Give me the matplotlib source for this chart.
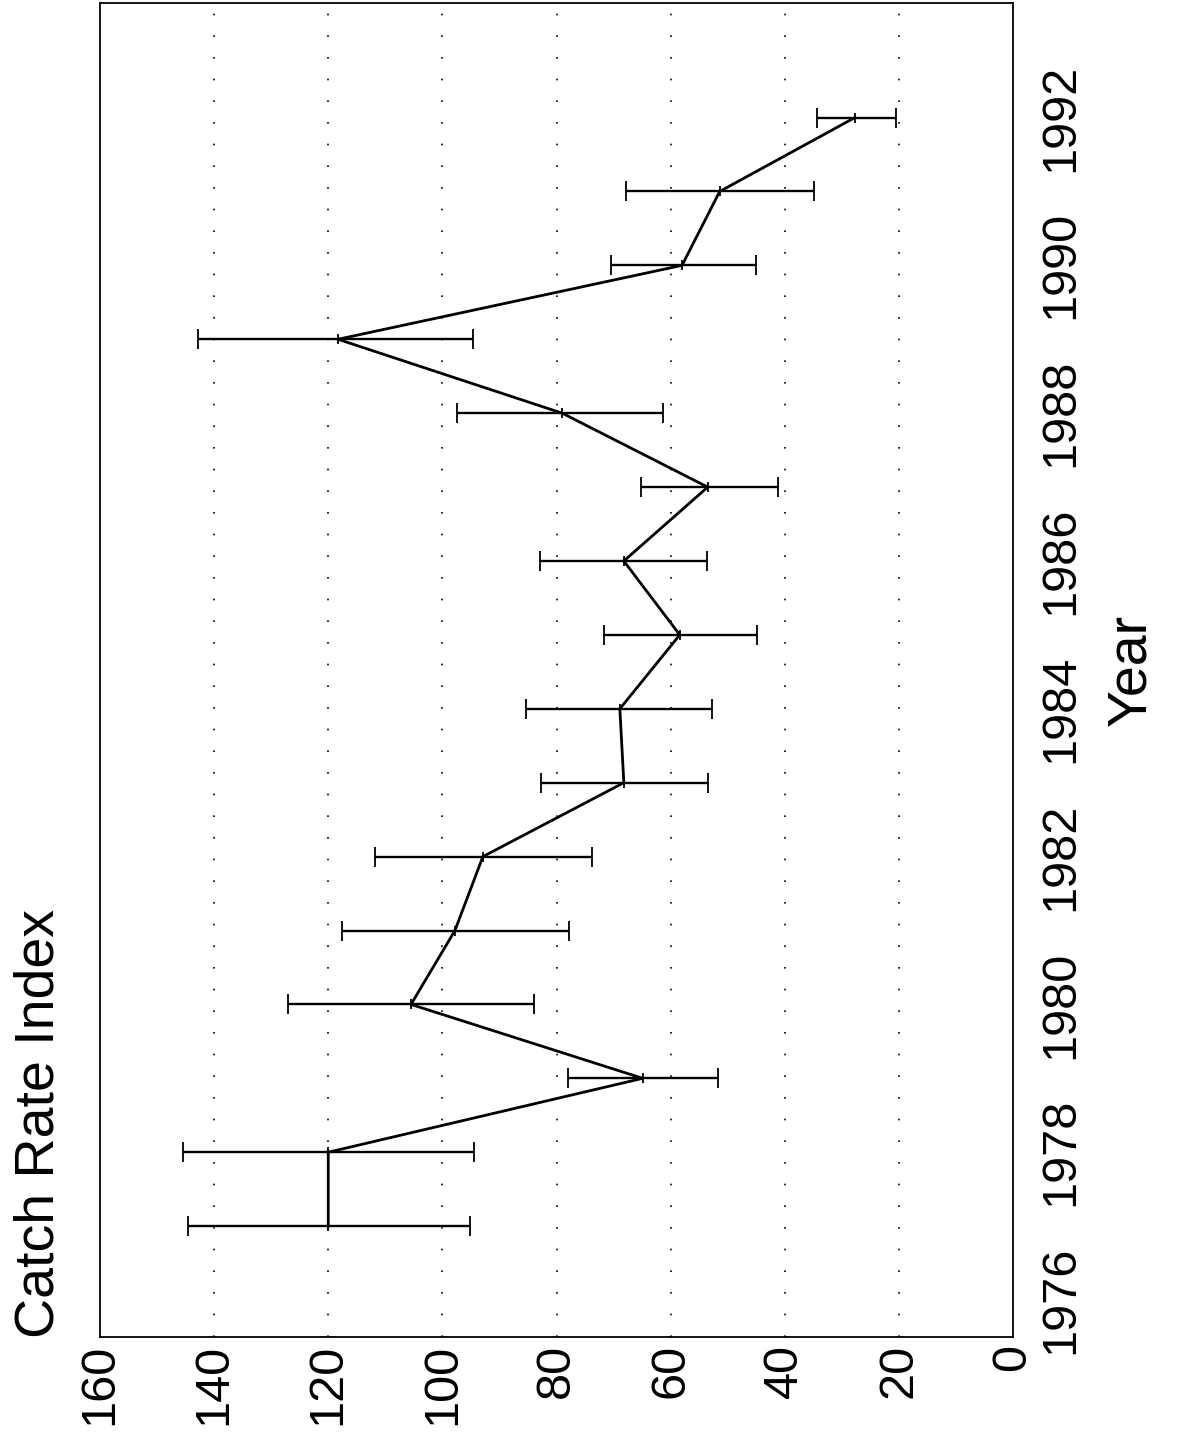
import matplotlib
matplotlib.use("Agg")
import matplotlib.pyplot as plt

# catch rate index by year, with lower / upper bounds of the error bars
years = [1977, 1978, 1979, 1980, 1981, 1982, 1983, 1984,
         1985, 1986, 1987, 1988, 1989, 1990, 1991, 1992]
index = [120, 120, 64.9, 105.5, 97.8, 92.9, 68.2, 68.9,
         58.4, 68.2, 53.5, 79, 118.3, 58, 51.4, 27.7]
lower = [95.2, 94.5, 51.7, 84, 77.8, 73.8, 53.5, 52.8,
         44.9, 53.6, 41.2, 61.3, 94.7, 45, 34.9, 20.5]
upper = [144.6, 145.5, 78, 127, 117.6, 111.8, 82.7, 85.4,
         71.7, 82.9, 65.2, 97.5, 142.9, 70.5, 67.8, 34.4]

value_ticks = [0, 20, 40, 60, 80, 100, 120, 140, 160]
year_ticks = [1976, 1978, 1980, 1982, 1984, 1986, 1988, 1990, 1992]

plt.rcParams['font.family'] = ['Liberation Sans', 'DejaVu Sans']

fig = plt.figure(figsize=(11.77, 14.37), dpi=100)
ax = fig.add_axes([100/1177, 1 - 1337/1437, 913/1177, 1334/1437])

# the page is printed sideways: values run along x (reversed), years along y
xerr = [[i - lo for i, lo in zip(index, lower)],
        [hi - i for i, hi in zip(index, upper)]]
ax.errorbar(index, years, xerr=xerr, color='black', lw=2.0,
            elinewidth=1.7, capsize=7, capthick=1.7,
            marker='|', markersize=7, mew=1.3)

for v in value_ticks[1:-1]:
    ax.axvline(v, color='black', lw=1.2, ls=(0, (1, 12)), zorder=0)

ax.set_xlim(160, 0)
ax.set_ylim(1975.5, 1993.55)

ax.set_xticks(value_ticks)
ax.set_xticklabels([str(v) for v in value_ticks], rotation=90, fontsize=35)
ax.set_yticks(year_ticks)
ax.set_yticklabels([str(y) for y in year_ticks], rotation=90, fontsize=35,
                   va='center')
ax.yaxis.tick_right()
ax.tick_params(axis='x', length=0, pad=5)
ax.tick_params(axis='y', length=0, pad=18)

ax.yaxis.set_label_position('right')
ax.set_ylabel('Year', fontsize=40, rotation=90, labelpad=16)

for s in ax.spines.values():
    s.set_linewidth(1.3)

fig.text(40/1177, 1 - 1338/1437, 'Catch Rate Index', fontsize=40,
         rotation=90, ha='center', va='bottom')

fig.savefig('out.png', dpi=100)
